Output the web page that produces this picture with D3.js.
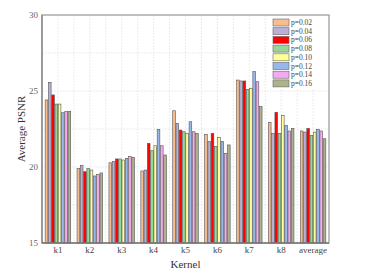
<!DOCTYPE html>
<html><head><meta charset="utf-8">
<script src="https://cdn.jsdelivr.net/npm/d3@7"></script>
<style>body{margin:0;background:#fff}svg{display:block}</style>
</head><body><svg id="c" width="379" height="274"></svg>
<script>
const kernels = ["k1","k2","k3","k4","k5","k6","k7","k8","average"];
const seriesNames = ["p=0.02","p=0.04","p=0.06","p=0.08","p=0.10","p=0.12","p=0.14","p=0.16"];
const p002 = [24.41,19.89,20.28,19.74,23.70,22.15,25.72,22.94,22.37];
const p004 = [25.57,20.11,20.35,19.80,22.87,21.67,25.66,22.21,22.30];
const p006 = [24.74,19.69,20.53,21.56,22.43,22.21,25.66,23.60,22.54];
const p008 = [24.14,19.91,20.53,21.07,22.32,21.34,25.11,22.21,22.08];
const p010 = [24.14,19.80,20.46,21.40,22.21,21.93,25.18,23.38,22.30];
const p012 = [23.57,19.41,20.57,22.48,22.98,21.67,26.27,22.74,22.48];
const p014 = [23.66,19.52,20.68,21.40,22.32,20.90,25.61,22.37,22.37];
const p016 = [23.66,19.61,20.64,20.79,22.21,21.45,23.97,22.54,21.86];
const series = [p002,p004,p006,p008,p010,p012,p014,p016];
const colors = ["#f8bd8e","#bcaed6","#ff0000","#98d59a","#ffff99","#98b8ec","#f8a8f2","#aeb28c"];
const yTicks = [15,20,25,30];

const FONT = "'Liberation Serif', 'Times New Roman', Times, serif";
const svg = d3.select("#c").attr("font-family", FONT);
const m = {l:42, r:329, t:15, b:243};
const x = d3.scaleBand().domain(kernels).range([m.l, m.r]).paddingInner(0.18).paddingOuter(0.09);
const xi = d3.scaleBand().domain(seriesNames).range([0, x.bandwidth()]);
const y = d3.scaleLinear().domain([15,30]).range([m.b, m.t]);

// grid
const g = svg.append("g");
d3.range(15, 30.01, 2.5).forEach(v => {
  g.append("line").attr("x1", m.l).attr("x2", m.r).attr("y1", y(v)).attr("y2", y(v))
   .attr("stroke","#e4e4e4").attr("stroke-width",0.7).attr("stroke-dasharray","2,1");
});
const step = x.step();
for (let i = 0; i <= kernels.length*2; i++) {
  const xv = m.l + i*step/2;
  g.append("line").attr("x1", xv).attr("x2", xv).attr("y1", m.t).attr("y2", m.b)
   .attr("stroke","#e4e4e4").attr("stroke-width",0.7).attr("stroke-dasharray","2,1");
}

// bars
series.forEach((vals, si) => {
  svg.append("g").selectAll("rect").data(vals).join("rect")
    .attr("x", (d,i) => x(kernels[i]) + xi(seriesNames[si]) + 0.3)
    .attr("width", xi.bandwidth() - 0.6)
    .attr("y", d => y(d))
    .attr("height", d => y(15) - y(d))
    .attr("fill", colors[si])
    .attr("stroke", "#555").attr("stroke-width", 0.6);
});

// frame
svg.append("rect").attr("x", m.l).attr("y", m.t).attr("width", m.r-m.l).attr("height", m.b-m.t)
  .attr("fill","none").attr("stroke","#a8a8a8").attr("stroke-width",1.4);
svg.append("line").attr("x1",m.l).attr("x2",m.l).attr("y1",m.t).attr("y2",m.b).attr("stroke","#777").attr("stroke-width",1);
svg.append("line").attr("x1",m.l).attr("x2",m.r).attr("y1",m.b).attr("y2",m.b).attr("stroke","#555").attr("stroke-width",1);

// y axis labels
const ya = svg.append("g").attr("transform",`translate(${m.l},0)`)
  .call(d3.axisLeft(y).tickValues(yTicks).tickSize(0).tickPadding(4));
ya.attr("font-family", FONT);
ya.select(".domain").remove();
ya.selectAll("text").attr("font-size",9).attr("fill","#666").attr("font-family", FONT);

// x axis labels
const xa = svg.append("g").attr("transform",`translate(0,${m.b})`)
  .call(d3.axisBottom(x).tickSize(0).tickPadding(4));
xa.attr("font-family", FONT);
xa.select(".domain").remove();
xa.selectAll("text").attr("font-size",9).attr("fill","#444").attr("font-family", FONT);

svg.append("text").attr("x", (m.l+m.r)/2).attr("y", 268).attr("text-anchor","middle")
  .attr("font-size",11).attr("fill","#333").attr("font-family", FONT).text("Kernel");
svg.append("text").attr("transform",`translate(25,${(m.t+m.b)/2}) rotate(-90)`).attr("text-anchor","middle")
  .attr("font-size",11).attr("fill","#333").attr("font-family", FONT).text("Average PSNR");

// legend
const lg = svg.append("g").attr("transform","translate(273,19)");
lg.append("rect").attr("x",-3).attr("y",-3).attr("width",57).attr("height",73).attr("fill","#fff");
seriesNames.forEach((n,i) => {
  lg.append("rect").attr("x",0).attr("y",i*8.7).attr("width",16).attr("height",7)
    .attr("fill",colors[i]).attr("stroke","#666").attr("stroke-width",0.6);
  lg.append("text").attr("x",18).attr("y",i*8.7+6).attr("font-size",7.5).attr("fill","#444")
    .attr("font-family", FONT).text(n);
});
</script></body></html>
